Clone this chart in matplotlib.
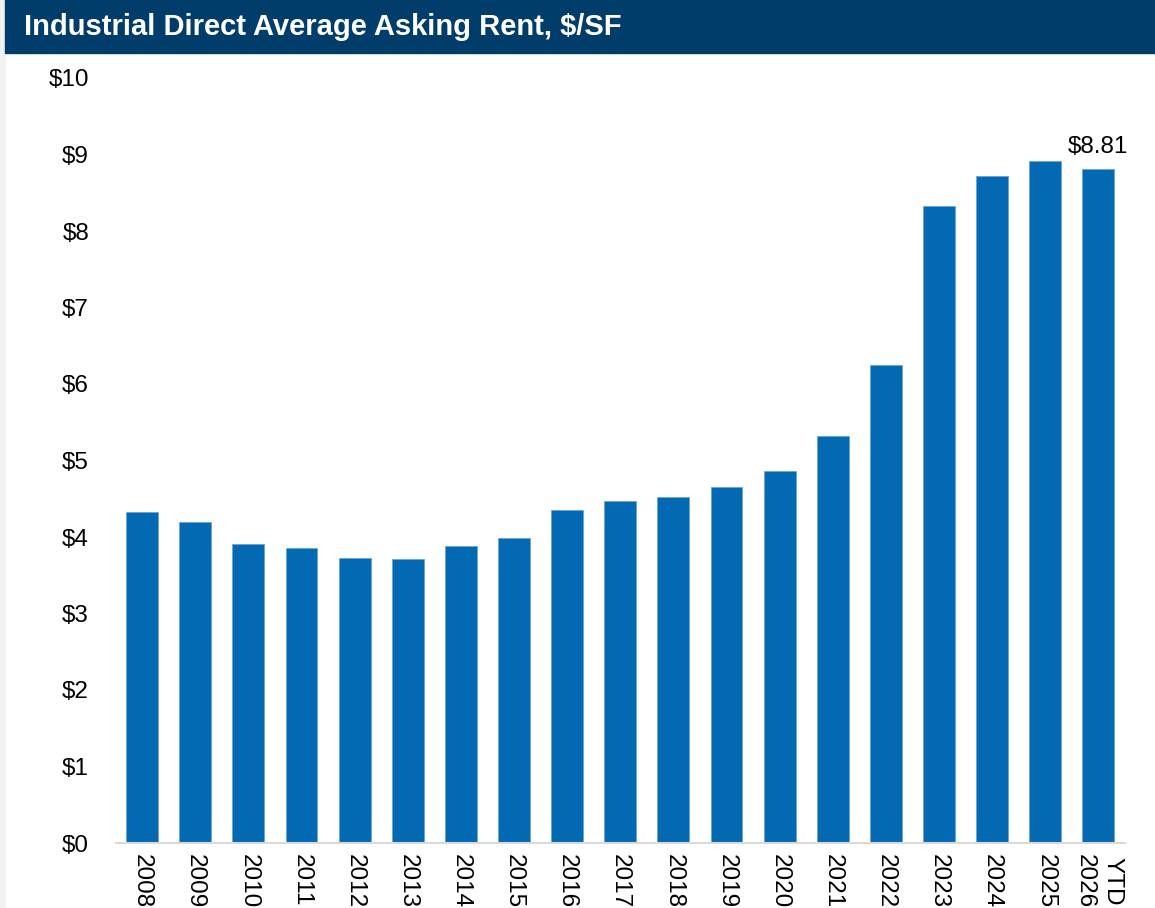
import matplotlib.pyplot as plt
from matplotlib.patches import Rectangle

years = ['2008', '2009', '2010', '2011', '2012', '2013', '2014', '2015', '2016',
         '2017', '2018', '2019', '2020', '2021', '2022', '2023', '2024', '2025',
         'YTD\n2026']
rent = [4.33, 4.20, 3.91, 3.86, 3.73, 3.71, 3.88, 3.99, 4.35,
        4.47, 4.52, 4.65, 4.86, 5.32, 6.25, 8.33, 8.72, 8.92, 8.81]
yticks = list(range(0, 11))
ytick_labels = ['$' + str(v) for v in yticks]

plt.rcParams['font.family'] = ['Liberation Sans', 'DejaVu Sans']

fig = plt.figure(figsize=(11.55, 9.08), dpi=100)

# grey strip on the left edge and the navy title band
fig.patches.append(Rectangle((0, 0), 5 / 1155, 1, transform=fig.transFigure,
                             color='#f2f2f2', zorder=0))
fig.patches.append(Rectangle((5 / 1155, 1 - 53 / 908), 1, 53 / 908,
                             transform=fig.transFigure, color='#003d6b', zorder=1))
fig.text(24 / 1155, 1 - 27 / 908, 'Industrial Direct Average Asking Rent, $/SF',
         color='white', fontsize=21, fontweight='bold', va='center', ha='left')

ax = fig.add_axes([0.100, 1 - 843 / 908, 0.874, (843 - 78) / 908])
x = list(range(len(years)))
bars = ax.bar(x, rent, width=0.6, color='#0469b3', edgecolor='#6aa5d6',
              linewidth=0.6, zorder=2)

ax.set_xlim(-0.5, len(years) - 0.5)
ax.set_ylim(0, 10)
ax.set_yticks(yticks)
ax.set_yticklabels(ytick_labels, fontsize=17.5)
ax.set_xticks(x)
ax.set_xticklabels(years, rotation=-90, fontsize=17.5, va='top', ha='center',
                   linespacing=1.3)
ax.tick_params(axis='both', length=0)
ax.tick_params(axis='y', pad=19)
ax.tick_params(axis='x', pad=8)

for side in ['top', 'right', 'left']:
    ax.spines[side].set_visible(False)
ax.spines['bottom'].set_color('#d9d9d9')
ax.spines['bottom'].set_linewidth(1.5)

# value label on the latest bar
ax.annotate('$' + format(rent[-1], '.2f'), (x[-1], rent[-1]),
            xytext=(0, 8), textcoords='offset points',
            ha='center', va='bottom', fontsize=17.5)

fig.savefig('out.png', dpi=100)
